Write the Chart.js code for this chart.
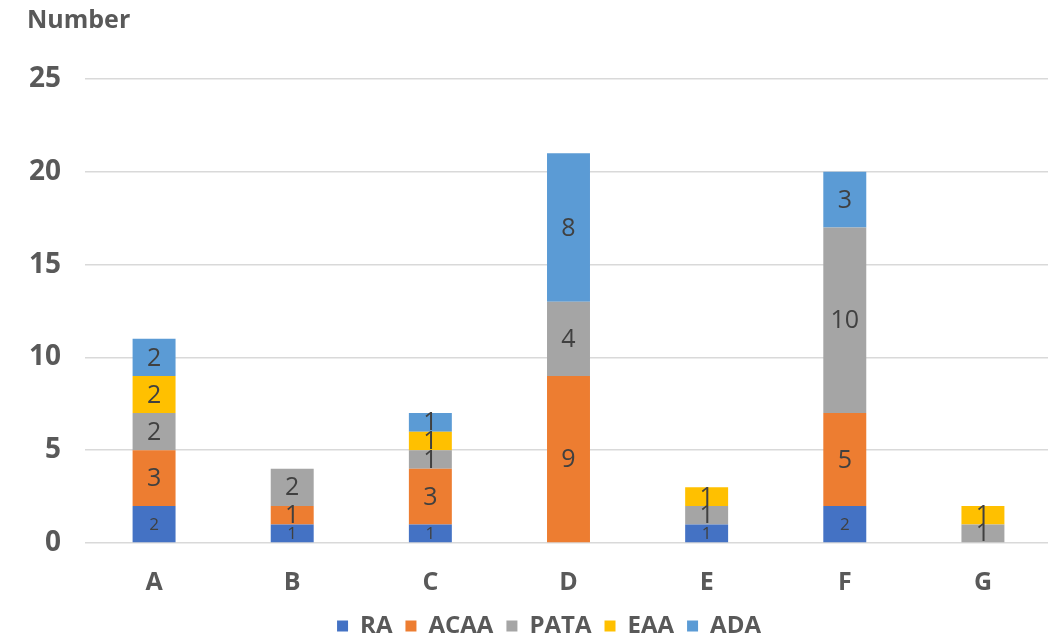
<!DOCTYPE html>
<html>
<head>
<meta charset="utf-8">
<script src="https://cdn.jsdelivr.net/npm/chart.js@4.4.1/dist/chart.umd.min.js"></script>
<style>
  html, body { margin: 0; padding: 0; background: #fff; overflow: hidden; }
  #wrap { width: 1098px; height: 648px; }
</style>
</head>
<body>
<div id="wrap"><canvas id="c" width="1098" height="648"></canvas></div>
<script>
// Categories and per-series counts (null = no segment)
const categories = ['A', 'B', 'C', 'D', 'E', 'F', 'G'];
const seriesNames = ['RA', 'ACAA', 'PATA', 'EAA', 'ADA'];
const RA   = [2, 1, 1, null, 1, 2, null];
const ACAA = [3, 1, 3, 9, null, 5, null];
const PATA = [2, 2, 1, 4, 1, 10, 1];
const EAA  = [2, null, 1, null, 1, null, 1];
const ADA  = [2, null, 1, 8, null, 3, null];
const yTicks = [0, 5, 10, 15, 20, 25];

const colors = ['#4472C4', '#ED7D31', '#A5A5A5', '#FFC000', '#5B9BD5'];
const values = [RA, ACAA, PATA, EAA, ADA];
const labelSizes = [17, 25, 25, 25, 25];

const FONT = "'Open Sans', 'Noto Sans', sans-serif";
const TEXT = '#595959';

// Writes each segment's value in its centre
const segmentLabels = {
  id: 'segmentLabels',
  afterDatasetsDraw(chart) {
    const ctx = chart.ctx;
    ctx.save();
    ctx.textAlign = 'center';
    ctx.textBaseline = 'middle';
    ctx.fillStyle = '#404040';
    chart.data.datasets.forEach((ds, i) => {
      const meta = chart.getDatasetMeta(i);
      ctx.font = labelSizes[i] + 'px ' + FONT;
      meta.data.forEach((bar, j) => {
        const v = ds.data[j];
        if (v === null || v === undefined) return;
        const p = bar.getCenterPoint();
        ctx.fillText(String(v), p.x, p.y + 1);
      });
    });
    ctx.restore();
  }
};

// Axis caption above the value scale
const axisCaption = {
  id: 'axisCaption',
  afterDraw(chart) {
    const ctx = chart.ctx;
    ctx.save();
    ctx.font = 'bold 25px ' + FONT;
    ctx.fillStyle = TEXT;
    ctx.textAlign = 'left';
    ctx.textBaseline = 'middle';
    ctx.fillText('Number', 27, 21);
    ctx.restore();
  }
};

new Chart(document.getElementById('c'), {
  type: 'bar',
  data: {
    labels: categories,
    datasets: seriesNames.map((name, i) => ({
      label: name,
      data: values[i],
      backgroundColor: colors[i],
      borderWidth: 0,
      barPercentage: 0.311,
      categoryPercentage: 1
    }))
  },
  options: {
    responsive: false,
    animation: false,
    layout: { padding: { top: 79, right: 0, left: 0, bottom: 0 } },
    scales: {
      x: {
        stacked: true,
        grid: { display: false },
        border: { display: false },
        ticks: { color: TEXT, font: { family: FONT, size: 25, weight: 'bold' }, padding: 17 },
        afterFit(scale) { scale.height = 58; }
      },
      y: {
        stacked: true,
        min: 0,
        max: 25,
        afterBuildTicks(scale) { scale.ticks = yTicks.map(v => ({ value: v })); },
        grid: { color: '#D9D9D9', lineWidth: 1.5, drawTicks: false },
        border: { display: false },
        ticks: { color: TEXT, font: { family: FONT, size: 28, weight: 'bold' }, padding: 24 },
        afterFit(scale) { scale.width = 85; }
      },
      // empty margin on the right of the plot
      yRight: {
        position: 'right',
        display: true,
        grid: { display: false, drawTicks: false },
        border: { display: false },
        ticks: { display: false },
        afterFit(scale) { scale.width = 46; }
      }
    },
    plugins: {
      legend: {
        position: 'bottom',
        labels: {
          color: TEXT,
          font: { family: FONT, size: 24, weight: 'bold' },
          boxWidth: 11,
          boxHeight: 11,
          padding: 13
        }
      },
      tooltip: { enabled: false }
    }
  },
  plugins: [segmentLabels, axisCaption]
});
</script>
</body>
</html>
